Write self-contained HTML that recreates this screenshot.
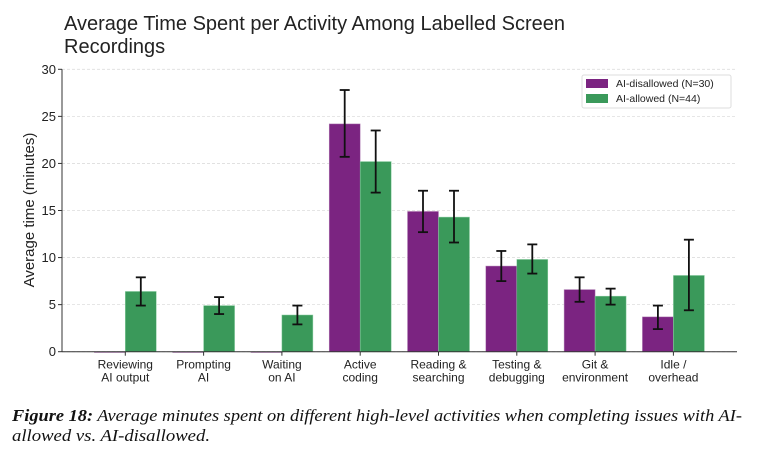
<!DOCTYPE html>
<html><head><meta charset="utf-8"><style>
html,body{margin:0;padding:0;background:#fff;}
svg{display:block;font-family:"Liberation Sans",sans-serif;}
</style></head><body>
<svg id="chart" width="764" height="454" viewBox="0 0 764 454" xmlns="http://www.w3.org/2000/svg">
<text x="64" y="30" font-size="20" fill="#222">Average Time Spent per Activity Among Labelled Screen</text>
<text x="64" y="53" font-size="20" fill="#222">Recordings</text>
<g id="grid"></g>
<g id="bars"></g>
<g id="axes"></g>
<text transform="translate(34,210) rotate(-90)" text-anchor="middle" font-size="15" fill="#222">Average time (minutes)</text>
<g>
<rect x="582" y="75" width="149" height="33" fill="#fff" stroke="#ddd" rx="2"/>
<rect x="586" y="79" width="22" height="9" fill="#7b2481"/>
<text x="616" y="87" font-size="10.5" fill="#222">AI-disallowed (N=30)</text>
<rect x="586" y="94" width="22" height="9" fill="#3a995a"/>
<text x="616" y="102" font-size="10.5" fill="#222">AI-allowed (N=44)</text>
</g>
<g font-family="'Liberation Serif',serif" font-style="italic" font-size="17" fill="#111">
<text x="12" y="421" textLength="730" lengthAdjust="spacingAndGlyphs"><tspan font-weight="bold">Figure 18:</tspan> Average minutes spent on different high-level activities when completing issues with AI-</text>
<text x="12" y="441" textLength="198" lengthAdjust="spacingAndGlyphs">allowed vs. AI-disallowed.</text>
</g>
</svg>
<script>
const categories = [["Reviewing","AI output"],["Prompting","AI"],["Waiting","on AI"],["Active","coding"],["Reading &","searching"],["Testing &","debugging"],["Git &","environment"],["Idle /","overhead"]];
const disallowed = [0,0,0,24.2,14.9,9.1,6.6,3.7];
const disallowedLo = [null,null,null,20.7,12.7,7.5,5.3,2.4];
const disallowedHi = [null,null,null,27.8,17.1,10.7,7.9,4.9];
const allowed = [6.4,4.9,3.9,20.2,14.3,9.8,5.9,8.1];
const allowedLo = [4.9,4.0,2.9,16.9,11.6,8.3,5.0,4.4];
const allowedHi = [7.9,5.8,4.9,23.5,17.1,11.4,6.7,11.9];
const yTicks = [0,5,10,15,20,25,30];

const NS="http://www.w3.org/2000/svg";
const X0=62,X1=737,Y0=351.7,YT=69.3,YMAX=30;
const y=v=>Y0-(v/YMAX)*(Y0-YT);
const cx=i=>125.3+i*78.3;
const BW=31;
function mk(tag,attrs,parent){const e=document.createElementNS(NS,tag);for(const k in attrs)e.setAttribute(k,attrs[k]);parent.appendChild(e);return e;}
const grid=document.getElementById('grid'),bars=document.getElementById('bars'),axes=document.getElementById('axes');
yTicks.forEach(t=>{
  const g=mk('line',{x1:X0,x2:X1,y1:y(t),y2:y(t),stroke:'#ddd','stroke-dasharray':'3,2','stroke-width':0.8},grid);
  
  
  const tk=mk('line',{x1:X0-4,x2:X0,y1:y(t),y2:y(t),stroke:'#333'},axes);
  
  
  const lb=mk('text',{x:X0-6,y:y(t)+4.5,'text-anchor':'end','font-size':13,fill:'#222'},axes);
  lb.textContent=t;
  
  
});
function errbar(x,lo,hi,name){
  if(lo==null)return;
  const g=mk('g',{stroke:'#111','stroke-width':1.8},bars);
  
  
  mk('line',{x1:x,x2:x,y1:y(lo),y2:y(hi)},g);
  mk('line',{x1:x-5,x2:x+5,y1:y(lo),y2:y(lo)},g);
  mk('line',{x1:x-5,x2:x+5,y1:y(hi),y2:y(hi)},g);
}
categories.forEach((c,i)=>{
  const c0=cx(i);
  const h1=Y0-y(disallowed[i]);
  const b1=mk('rect',{x:c0-BW,y:y(disallowed[i]),width:BW,height:Math.max(h1,0.8),fill:'#7b2481',stroke:'#b88abb','stroke-width':0.5},bars);
  
  
  const b2=mk('rect',{x:c0,y:y(allowed[i]),width:BW,height:Y0-y(allowed[i]),fill:'#3a995a',stroke:'#8fd0a5','stroke-width':0.5},bars);
  
  
  errbar(c0-BW/2,disallowedLo[i],disallowedHi[i],'errorbar-disallowed-'+i);
  errbar(c0+BW/2,allowedLo[i],allowedHi[i],'errorbar-allowed-'+i);
  const tk=mk('line',{x1:c0,x2:c0,y1:Y0,y2:Y0+4,stroke:'#333'},axes);
  
  
  const t=mk('text',{x:c0,'text-anchor':'middle','font-size':12,fill:'#222'},axes);
  
  
  c.forEach((line,j)=>{const ts=mk('tspan',{x:c0,y:Y0+17+j*13},t);ts.textContent=line;});
});
const ya=mk('line',{x1:X0,x2:X0,y1:YT,y2:Y0,stroke:'#333','stroke-width':1},axes);


const xa=mk('line',{x1:X0,x2:X1,y1:Y0,y2:Y0,stroke:'#333','stroke-width':1},axes);


</script>
</body></html>
